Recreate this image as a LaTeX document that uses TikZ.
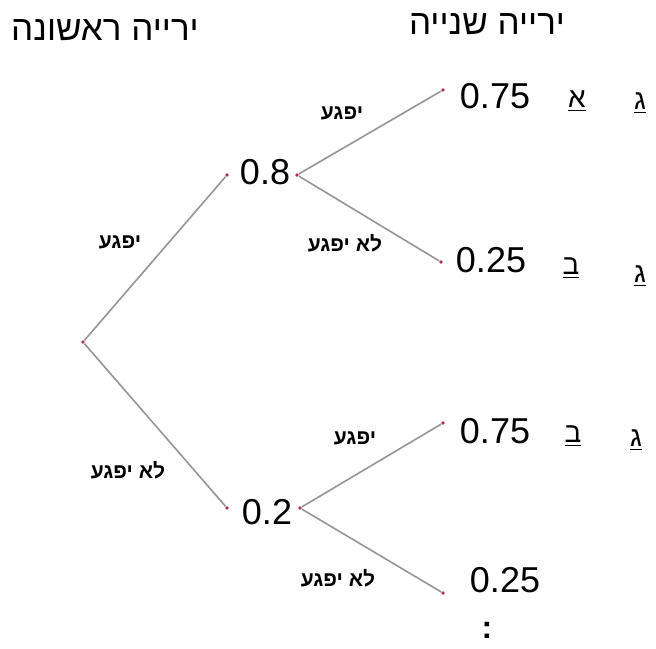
\documentclass[tikz,border=0pt]{standalone}
\usepackage{fontspec}
\setmainfont{Liberation Sans}
\newfontfamily\hebfont[Script=Hebrew]{Liberation Sans}
\TeXXeTstate=1
\usepackage{xcolor}
\usetikzlibrary{positioning,calc}

\definecolor{branchgray}{HTML}{959595}
\definecolor{dotred}{HTML}{B03050}

\newcommand{\heb}[1]{{\hebfont\beginR #1\endR}}

\begin{document}
\begin{tikzpicture}[x=0.5pt, y=-0.5pt,
    dot/.style={circle, fill=dotred, inner sep=0pt, minimum size=1.8pt},
    branch/.style={draw=branchgray, line width=0.8pt},
    prob/.style={font=\fontsize{18}{21}\selectfont},
    head/.style={font=\fontsize{17.5}{20}\selectfont},
    edgelab/.style={font=\fontsize{10.5}{12}\selectfont\bfseries},
    tag/.style={font=\fontsize{14}{16}\selectfont}]
        \useasboundingbox (0,0) rectangle (656,648);

        % Headings
        \node[head] (h1) at (105,30) {\heb{ירייה ראשונה}};
        \node[head] (h2) at (487,24) {\heb{ירייה שנייה}};

        % First shot
        \node[dot] (r) at (83,342) {};
        \node[dot] (a1) at (227,175) {};
        \node[dot] (a2) at (297,175) {};
        \node[prob] (pa) at (265,172) {0.8};
        \node[dot] (b1) at (227,508) {};
        \node[dot] (b2) at (300,508) {};
        \node[prob] (pb) at (267,512) {0.2};
        \draw[branch] (r) -- (a1);
        \draw[branch] (r) -- (b1);
        \node[edgelab] (e1) at (120,242) {\heb{יפגע}};
        \node[edgelab] (e2) at (128,470) {\heb{לא יפגע}};

        % Second shot
        \node[dot] (c1) at (443,90) {};
        \node[dot] (c2) at (441,262) {};
        \node[dot] (c3) at (443,423) {};
        \node[dot] (c4) at (443,593) {};
        \draw[branch] (a2) -- (c1);
        \draw[branch] (a2) -- (c2);
        \draw[branch] (b2) -- (c3);
        \draw[branch] (b2) -- (c4);
        \node[edgelab] (e3) at (342,113) {\heb{יפגע}};
        \node[edgelab] (e4) at (345,243) {\heb{לא יפגע}};
        \node[edgelab] (e5) at (355,438) {\heb{יפגע}};
        \node[edgelab] (e6) at (338,578) {\heb{לא יפגע}};

        % Leaves
        \node[prob] (p1) at (495,96) {0.75};
        \node[prob] (p2) at (491,260) {0.25};
        \node[prob] (p3) at (495,431) {0.75};
        \node[prob] (p4) at (505,580) {0.25};
        \node[font=\fontsize{16}{18}\selectfont\bfseries] (dd) at (487,630) {:};

        % Tags
        \node[tag] (t1) at (577,101) {\underline{\heb{א}}};
        \node[tag] (g1) at (640,103) {\underline{\heb{ג}}};
        \node[tag] (t2) at (571,268) {\underline{\heb{ב}}};
        \node[tag] (g2) at (640,276) {\underline{\heb{ג}}};
        \node[tag] (t3) at (573,436) {\underline{\heb{ב}}};
        \node[tag] (g3) at (636,440) {\underline{\heb{ג}}};
    \end{tikzpicture}
\end{document}
